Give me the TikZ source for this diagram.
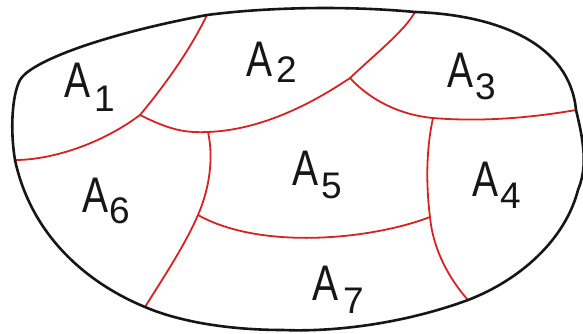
\documentclass[tikz,border=0pt]{standalone}
\usepackage{fontspec}
\setmainfont{Liberation Sans}
\definecolor{penred}{RGB}{214,34,34}
\definecolor{penblack}{RGB}{22,22,22}
\newcommand{\reglab}[3]{\scalebox{0.78}[1]{A}\kern#3pt\raisebox{-#2pt}{\fontsize{37}{37}\selectfont #1}}
\tikzset{
  outline/.style={draw=penblack, line width=2.6pt, line join=round, line cap=round},
  border/.style={draw=penred, line width=1.8pt, line join=round, line cap=round},
  regname/.style={anchor=base west, inner sep=0pt, text=penblack, font=\fontsize{50}{50}\selectfont}
}
\begin{document}
\begin{tikzpicture}[x=1pt,y=-1pt]
\useasboundingbox (0,0) rectangle (583,334);
\fill[white] (0,0) rectangle (583,334);
% points on the outline
\coordinate (tl) at (20,80);
\coordinate (t1) at (207,15);
\coordinate (t2) at (415,12);
\coordinate (r1) at (576,110);
\coordinate (r2) at (578,190);
\coordinate (b2) at (468,300);
\coordinate (bm) at (283,330);
\coordinate (b1) at (145,307);
\coordinate (l1) at (15,160);
% inner junctions
\coordinate (j1) at (140,115);
\coordinate (j2) at (208,132);
\coordinate (j3) at (350,78);
\coordinate (j4) at (433,118);
\coordinate (j5) at (198,215);
\coordinate (j6) at (430,217);
% red borders
\draw[border] (t1) .. controls (190,50) and (165,85) .. (j1);
\draw[border] (j1) .. controls (100,145) and (50,160) .. (l1);
\draw[border] (j1) .. controls (170,130) and (185,133) .. (j2)
              .. controls (260,130) and (310,105) .. (j3);
\draw[border] (j3) .. controls (380,50) and (405,30) .. (t2);
\draw[border] (j3) .. controls (370,100) and (400,115) .. (j4)
              .. controls (480,122) and (530,118) .. (r1);
\draw[border] (j2) .. controls (212,150) and (213,180) .. (j5);
\draw[border] (j5) .. controls (185,245) and (165,275) .. (b1);
\draw[border] (j5) .. controls (260,250) and (370,240) .. (j6);
\draw[border] (j4) .. controls (426,150) and (426,185) .. (j6);
\draw[border] (j6) .. controls (433,250) and (450,280) .. (b2);
% outer boundary
\draw[outline] (tl) .. controls (30,62) and (100,35) .. (t1)
  .. controls (260,8) and (340,5) .. (t2)
  .. controls (500,15) and (570,45) .. (r1)
  .. controls (586,150) and (586,170) .. (r2)
  .. controls (565,240) and (520,280) .. (b2)
  .. controls (400,325) and (330,332) .. (bm)
  .. controls (230,330) and (180,322) .. (b1)
  .. controls (80,280) and (30,230) .. (l1)
  .. controls (10,130) and (12,95) .. (tl);
% labels
\node[regname] (a1) at (64,98)  {\reglab{1}{14}{4}};
\node[regname] (a2) at (246,77) {\reglab{2}{6}{4}};
\node[regname] (a3) at (447,88) {\reglab{3}{12}{2}};
\node[regname] (a4) at (472,196) {\reglab{4}{12}{2}};
\node[regname] (a5) at (292,185) {\reglab{5}{13}{3}};
\node[regname] (a6) at (82,212) {\reglab{6}{11}{1}};
\node[regname] (a7) at (312,300) {\reglab{7}{13}{5}};
\end{tikzpicture}
\end{document}
